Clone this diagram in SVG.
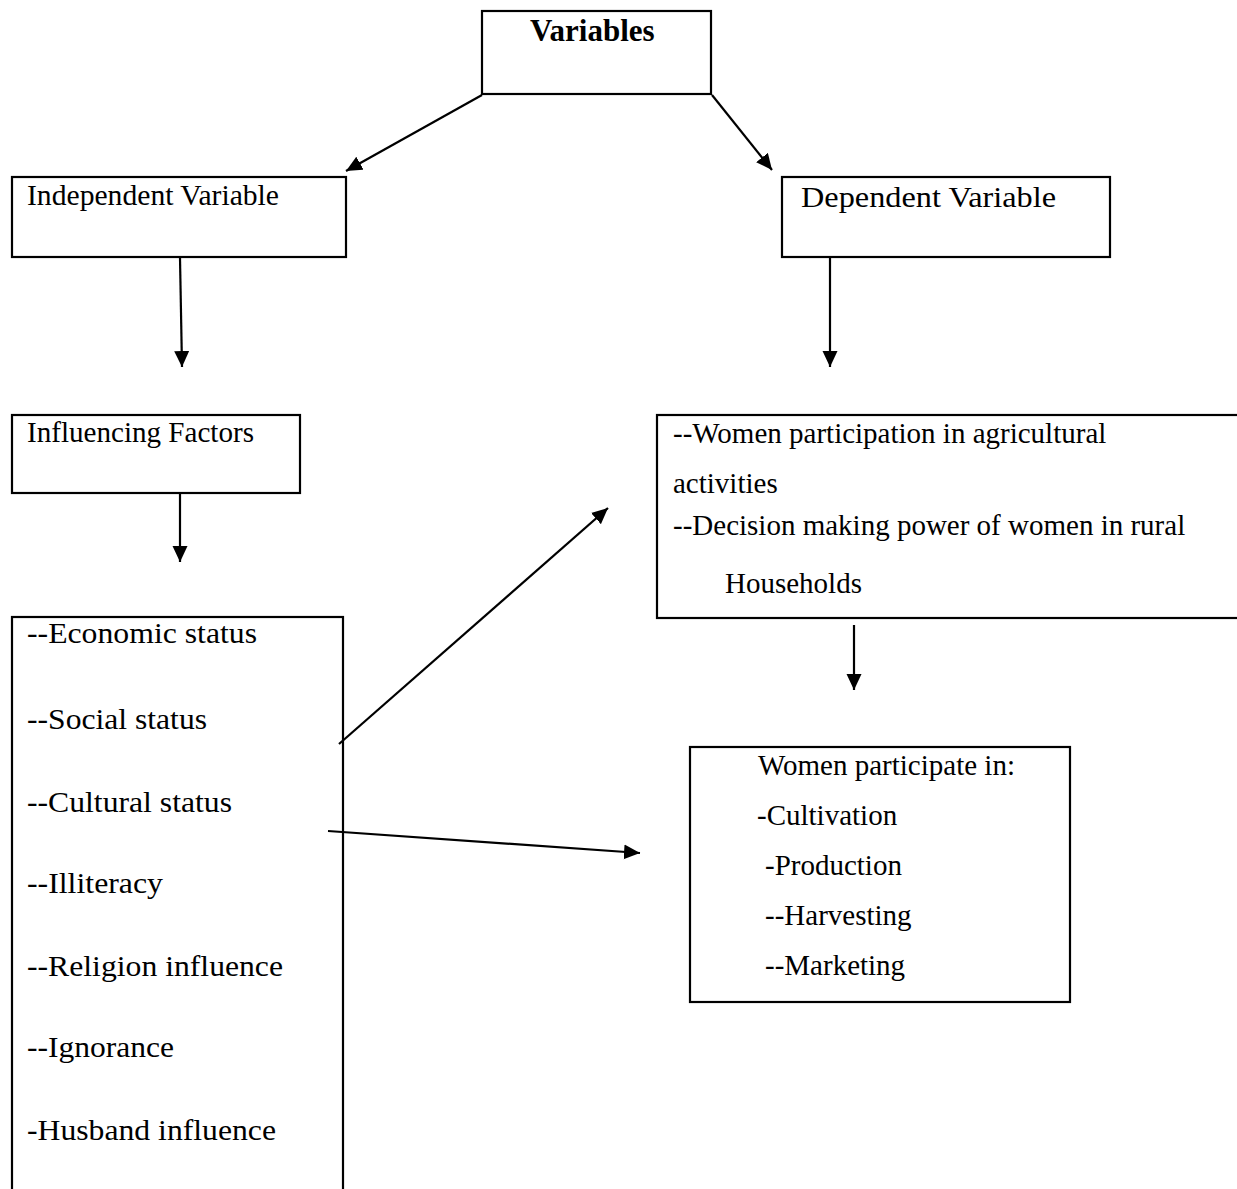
<svg xmlns="http://www.w3.org/2000/svg" width="1237" height="1189" viewBox="0 0 1237 1189">
<style>
.box{fill:#fff;stroke:#000;stroke-width:2.2}
.t{font-family:"Liberation Serif","Times New Roman",serif;font-size:29px;fill:#000}
.b{font-weight:bold;font-size:31px}
.c{stroke:#000;stroke-width:2.2;fill:none;marker-end:url(#ah)}
</style>
<defs>
<marker id="ah" markerUnits="userSpaceOnUse" markerWidth="18" markerHeight="16" refX="16" refY="7.5" orient="auto">
<path d="M0,0 L16,7.5 L0,15 z" fill="#000"/>
</marker>
</defs>
<rect width="1237" height="1189" fill="#fff"/>
<g id="variables">
<rect class="box" x="482" y="11" width="229" height="83"/>
<text class="t b" x="530" y="41">Variables</text>
</g>
<g id="independent">
<rect class="box" x="12" y="177" width="334" height="80"/>
<text class="t" x="27" y="205" font-size="28" textLength="252" lengthAdjust="spacingAndGlyphs">Independent Variable</text>
</g>
<g id="dependent">
<rect class="box" x="782" y="177" width="328" height="80"/>
<text class="t" x="801" y="207" textLength="255" lengthAdjust="spacingAndGlyphs">Dependent Variable</text>
</g>
<g id="influencing">
<rect class="box" x="12" y="415" width="288" height="78"/>
<text class="t" x="27" y="442" font-size="28" textLength="227" lengthAdjust="spacingAndGlyphs">Influencing Factors</text>
</g>
<g id="outcomes">
<rect class="box" x="657" y="415" width="582" height="203"/>
<text class="t" x="673" y="443">--Women participation in agricultural</text>
<text class="t" x="673" y="493">activities</text>
<text class="t" x="673" y="535">--Decision making power of women in rural</text>
<text class="t" x="725" y="593">Households</text>
</g>
<g id="factors">
<rect class="box" x="12" y="617" width="331" height="600"/>
<text class="t" x="27" y="643" font-size="28" textLength="230" lengthAdjust="spacingAndGlyphs">--Economic status</text>
<text class="t" x="27" y="729" font-size="28" textLength="180" lengthAdjust="spacingAndGlyphs">--Social status</text>
<text class="t" x="27" y="812" font-size="28" textLength="205" lengthAdjust="spacingAndGlyphs">--Cultural status</text>
<text class="t" x="27" y="893" font-size="28" textLength="136" lengthAdjust="spacingAndGlyphs">--Illiteracy</text>
<text class="t" x="27" y="976" font-size="28" textLength="256" lengthAdjust="spacingAndGlyphs">--Religion influence</text>
<text class="t" x="27" y="1057" font-size="28" textLength="147" lengthAdjust="spacingAndGlyphs">--Ignorance</text>
<text class="t" x="27" y="1140" font-size="28" textLength="249" lengthAdjust="spacingAndGlyphs">-Husband influence</text>
</g>
<g id="activities">
<rect class="box" x="690" y="747" width="380" height="255"/>
<text class="t" x="758" y="775">Women participate in:</text>
<text class="t" x="757" y="825">-Cultivation</text>
<text class="t" x="765" y="875">-Production</text>
<text class="t" x="765" y="925">--Harvesting</text>
<text class="t" x="765" y="975">--Marketing</text>
</g>
<g id="connectors">
<line class="c" x1="482" y1="95" x2="346" y2="171"/>
<line class="c" x1="712" y1="95" x2="772" y2="170"/>
<line class="c" x1="180" y1="258" x2="182" y2="367"/>
<line class="c" x1="830" y1="258" x2="830" y2="367"/>
<line class="c" x1="180" y1="494" x2="180" y2="562"/>
<line class="c" x1="339" y1="744" x2="608" y2="508"/>
<line class="c" x1="328" y1="831" x2="640" y2="853"/>
<line class="c" x1="854" y1="625" x2="854" y2="690"/>
</g>
</svg>
